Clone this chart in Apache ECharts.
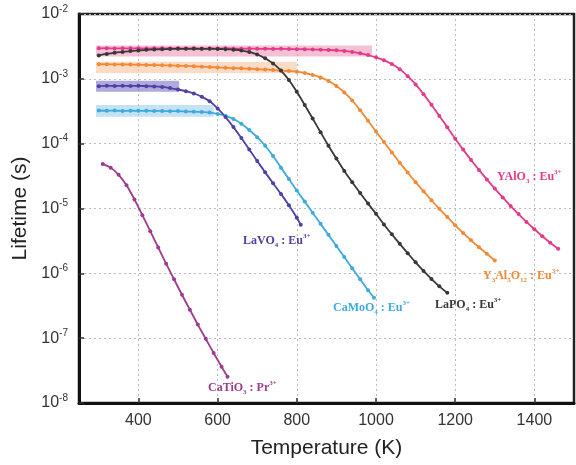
<!DOCTYPE html>
<html>
<head>
<meta charset="utf-8">
<script src="https://cdn.jsdelivr.net/npm/echarts@6/dist/echarts.min.js"></script>
<style>
  html, body { margin: 0; padding: 0; background: #fff; }
  #chart { width: 576px; height: 465px; }
</style>
</head>
<body>
<div id="chart"></div>
<script>
// Temperature tick positions (K)
const xTicks = [400, 600, 800, 1000, 1200, 1400];

// Luminescence lifetime vs temperature, [T (K), lifetime (s)]
const yalo3 = [
  [300,2.95e-3],[320,2.97e-3],[340,2.94e-3],[360,2.96e-3],[380,2.95e-3],[400,2.97e-3],[420,2.93e-3],
  [440,2.96e-3],[460,2.95e-3],[480,2.94e-3],[500,2.96e-3],[520,2.93e-3],[540,2.95e-3],[560,2.92e-3],
  [580,2.94e-3],[600,2.93e-3],[620,2.95e-3],[640,2.92e-3],[660,2.91e-3],[680,2.93e-3],[700,2.9e-3],
  [720,2.91e-3],[740,2.89e-3],[760,2.9e-3],[780,2.88e-3],[800,2.87e-3],[820,2.86e-3],[840,2.84e-3],
  [860,2.82e-3],[880,2.79e-3],[900,2.75e-3],[920,2.69e-3],[940,2.6e-3],[960,2.48e-3],[980,2.33e-3],
  [1000,2.15e-3],[1020,1.94e-3],[1040,1.69e-3],[1060,1.41e-3],[1080,1.1e-3],[1100,8.2e-4],
  [1120,5.8e-4],[1140,3.98e-4],[1160,2.68e-4],[1180,1.79e-4],[1200,1.19e-4],[1220,8.1e-5],
  [1240,5.6e-5],[1260,3.94e-5],[1280,2.81e-5],[1300,2.03e-5],[1320,1.48e-5],[1340,1.09e-5],
  [1360,8.2e-6],[1380,6.2e-6],[1400,4.78e-6],[1420,3.74e-6],[1440,2.97e-6],[1460,2.39e-6]
];
const yag = [
  [300,1.68e-3],[320,1.68e-3],[340,1.67e-3],[360,1.67e-3],[380,1.66e-3],[400,1.65e-3],[420,1.64e-3],
  [440,1.63e-3],[460,1.62e-3],[480,1.61e-3],[500,1.59e-3],[520,1.58e-3],[540,1.56e-3],[560,1.54e-3],
  [580,1.52e-3],[600,1.5e-3],[620,1.48e-3],[640,1.46e-3],[660,1.45e-3],[680,1.43e-3],[700,1.41e-3],
  [720,1.39e-3],[740,1.37e-3],[760,1.34e-3],[780,1.32e-3],[800,1.29e-3],[820,1.23e-3],[840,1.15e-3],
  [860,1.05e-3],[880,9.25e-4],[900,7.78e-4],[920,6.18e-4],[940,4.63e-4],[960,3.28e-4],[980,2.25e-4],
  [1000,1.54e-4],[1020,1.06e-4],[1040,7.33e-5],[1060,5.1e-5],[1080,3.59e-5],[1100,2.55e-5],
  [1120,1.84e-5],[1140,1.34e-5],[1160,9.9e-6],[1180,7.4e-6],[1200,5.5e-6],[1220,4.2e-6],
  [1240,3.23e-6],[1260,2.52e-6],[1280,2.0e-6],[1300,1.58e-6]
];
const lapo4 = [
  [300,2.3e-3],[320,2.42e-3],[340,2.52e-3],[360,2.6e-3],[380,2.68e-3],[400,2.74e-3],[420,2.8e-3],
  [440,2.84e-3],[460,2.86e-3],[480,2.88e-3],[500,2.9e-3],[520,2.9e-3],[540,2.91e-3],[560,2.9e-3],
  [580,2.9e-3],[600,2.89e-3],[620,2.87e-3],[640,2.82e-3],[660,2.74e-3],[680,2.6e-3],[700,2.37e-3],
  [720,2.07e-3],[740,1.73e-3],[760,1.34e-3],[780,9.6e-4],[800,6.3e-4],[820,3.95e-4],[840,2.44e-4],
  [860,1.5e-4],[880,9.3e-5],[900,5.9e-5],[920,3.8e-5],[940,2.54e-5],[960,1.73e-5],[980,1.19e-5],
  [1000,8.3e-6],[1020,5.66e-6],[1040,4.0e-6],[1060,2.85e-6],[1080,2.04e-6],[1100,1.48e-6],
  [1120,1.09e-6],[1140,8.2e-7],[1160,6.3e-7],[1180,5.0e-7]
];
const lavo4 = [
  [300,7.7e-4],[320,7.8e-4],[340,7.75e-4],[360,7.8e-4],[380,7.75e-4],[400,7.8e-4],[420,7.7e-4],
  [440,7.65e-4],[460,7.5e-4],[480,7.2e-4],[500,6.85e-4],[520,6.45e-4],[540,5.94e-4],[560,5.28e-4],
  [580,4.5e-4],[600,3.5e-4],[620,2.57e-4],[640,1.8e-4],[660,1.22e-4],[680,8.1e-5],[700,5.4e-5],
  [720,3.63e-5],[740,2.45e-5],[760,1.68e-5],[780,1.12e-5],[800,7.2e-6],[810,5.6e-6]
];
const camoo4 = [
  [300,3.25e-4],[320,3.22e-4],[340,3.24e-4],[360,3.2e-4],[380,3.23e-4],[400,3.21e-4],[420,3.22e-4],
  [440,3.19e-4],[460,3.2e-4],[480,3.17e-4],[500,3.18e-4],[520,3.14e-4],[540,3.11e-4],[560,3.07e-4],
  [580,3.02e-4],[600,2.88e-4],[620,2.69e-4],[640,2.4e-4],[660,2.03e-4],[680,1.62e-4],[700,1.26e-4],
  [720,9.3e-5],[740,6.45e-5],[760,4.27e-5],[780,2.84e-5],[800,1.89e-5],[820,1.28e-5],[840,8.6e-6],
  [860,5.8e-6],[880,3.92e-6],[900,2.64e-6],[920,1.78e-6],[940,1.2e-6],[960,8.1e-7],[980,5.47e-7],
  [995,4.2e-7]
];
const catio3 = [
  [310,4.85e-5],[330,4.27e-5],[350,3.31e-5],[370,2.29e-5],[390,1.38e-5],[410,7.9e-6],[430,4.47e-6],
  [450,2.51e-6],[470,1.41e-6],[490,8.1e-7],[510,4.68e-7],[530,2.75e-7],[550,1.62e-7],[570,9.8e-8],
  [590,5.9e-8],[610,3.63e-8],[625,2.55e-8]
];

// Low-temperature plateau bands: [T start, T end, lifetime low, lifetime high]
const yalo3Band = [293, 990, 2.21e-3, 3.27e-3];
const yagBand   = [293, 800, 1.22e-3, 1.84e-3];
const lavo4Band = [293, 503, 6.32e-4, 9.35e-4];
const camoo4Band = [293, 590, 2.6e-4, 3.95e-4];

const colors = {
  yalo3: '#e43a8a',
  yag: '#f08a36',
  lapo4: '#383838',
  lavo4: '#4d40a8',
  camoo4: '#3eaadc',
  catio3: '#9c3b90'
};

function band(b, fill) {
  return {
    silent: true,
    itemStyle: { color: fill },
    data: [[{ xAxis: b[0], yAxis: b[3] }, { xAxis: b[1], yAxis: b[2] }]]
  };
}

function lineSeries(name, data, color, area) {
  const s = {
    name: name,
    type: 'line',
    data: data,
    smooth: 0.4,
    symbol: 'circle',
    symbolSize: 4,
    showAllSymbol: true,
    lineStyle: { color: color, width: 1.8 },
    itemStyle: { color: color },
    z: 3
  };
  if (area) s.markArea = area;
  return s;
}

const chart = echarts.init(document.getElementById('chart'), null, { renderer: 'canvas' });

const serif = '"Liberation Serif", "DejaVu Serif", serif';
const sans = '"Liberation Sans", Arial, sans-serif';
function tag(text, color, x, y) {
  return {
    type: 'text',
    x: x, y: y,
    z: 10,
    style: {
      text: text,
      fill: color,
      fontFamily: serif,
      fontWeight: 'bold',
      fontSize: 12,
      align: 'left',
      verticalAlign: 'middle',
      rich: {
        n: { fontFamily: serif, fontWeight: 'bold', fontSize: 12, fill: color, lineHeight: 16, verticalAlign: 'middle' },
        sub: { fontFamily: serif, fontWeight: 'bold', fontSize: 7, fill: color, lineHeight: 16, verticalAlign: 'bottom' },
        sup: { fontFamily: serif, fontWeight: 'bold', fontSize: 7, fill: color, lineHeight: 16, verticalAlign: 'top' }
      }
    }
  };
}

chart.setOption({
  animation: false,
  backgroundColor: '#fff',
  grid: {
    left: 79, right: 2, top: 14, bottom: 62,
    show: true,
    borderColor: '#222',
    borderWidth: 2.5,
    backgroundColor: '#fff'
  },
  xAxis: {
    type: 'value',
    min: 250,
    max: 1500,
    name: 'Temperature (K)',
    nameLocation: 'middle',
    nameGap: 35,
    nameTextStyle: { fontFamily: sans, fontSize: 21, color: '#222' },
    axisLine: { show: true, onZero: false, lineStyle: { color: '#111', width: 3 } },
    axisTick: { show: true, inside: true, length: 5, customValues: xTicks, lineStyle: { color: '#333', width: 1.5 } },
    axisLabel: {
      customValues: xTicks,
      formatter: function (v) { return String(v); },
      fontFamily: sans, fontSize: 16, color: '#333', margin: 10
    },
    splitLine: { show: true, lineStyle: { type: [2, 3], color: '#bdbdbd', width: 1 } }
  },
  yAxis: {
    type: 'log',
    logBase: 10,
    min: 1e-8,
    max: 1e-2,
    name: 'Lifetime (s)',
    nameLocation: 'middle',
    nameGap: 44,
    nameRotate: 90,
    nameTextStyle: { fontFamily: sans, fontSize: 21, color: '#222' },
    axisLine: { show: true, lineStyle: { color: '#111', width: 3 } },
    axisTick: { show: true, inside: true, length: 5, lineStyle: { color: '#333', width: 1.5 } },
    axisLabel: {
      margin: 11,
      formatter: function (v) {
        const e = Math.round(Math.log10(v));
        return '{b|10}{s|' + e + '}';
      },
      rich: {
        b: { fontFamily: sans, fontSize: 16, color: '#333', lineHeight: 20, verticalAlign: 'middle' },
        s: { fontFamily: sans, fontSize: 10, color: '#333', lineHeight: 20, verticalAlign: 'top' }
      }
    },
    splitLine: { show: true, lineStyle: { type: [2, 3], color: '#bdbdbd', width: 1 } }
  },
  series: [
    lineSeries('CaMoO4:Eu', camoo4, colors.camoo4, band(camoo4Band, 'rgba(150,200,235,0.55)')),
    lineSeries('LaVO4:Eu', lavo4, colors.lavo4, band(lavo4Band, 'rgba(110,100,190,0.55)')),
    lineSeries('Y3Al5O12:Eu', yag, colors.yag, band(yagBand, 'rgba(245,190,150,0.55)')),
    lineSeries('YAlO3:Eu', yalo3, colors.yalo3, band(yalo3Band, 'rgba(235,140,175,0.55)')),
    lineSeries('LaPO4:Eu', lapo4, colors.lapo4),
    lineSeries('CaTiO3:Pr', catio3, colors.catio3)
  ],
  graphic: [
    tag('{n|YAlO}{sub|3}{n| : Eu}{sup|3+}', colors.yalo3, 497, 177),
    tag('{n|Y}{sub|3}{n|Al}{sub|5}{n|O}{sub|12}{n| : Eu}{sup|3+}', colors.yag, 483, 276),
    tag('{n|LaPO}{sub|4}{n| : Eu}{sup|3+}', colors.lapo4, 435, 305),
    tag('{n|CaMoO}{sub|4}{n| : Eu}{sup|3+}', colors.camoo4, 333, 308),
    tag('{n|LaVO}{sub|4}{n| : Eu}{sup|3+}', colors.lavo4, 243, 241),
    tag('{n|CaTiO}{sub|3}{n| : Pr}{sup|3+}', colors.catio3, 208, 388)
  ]
});
</script>
</body>
</html>
